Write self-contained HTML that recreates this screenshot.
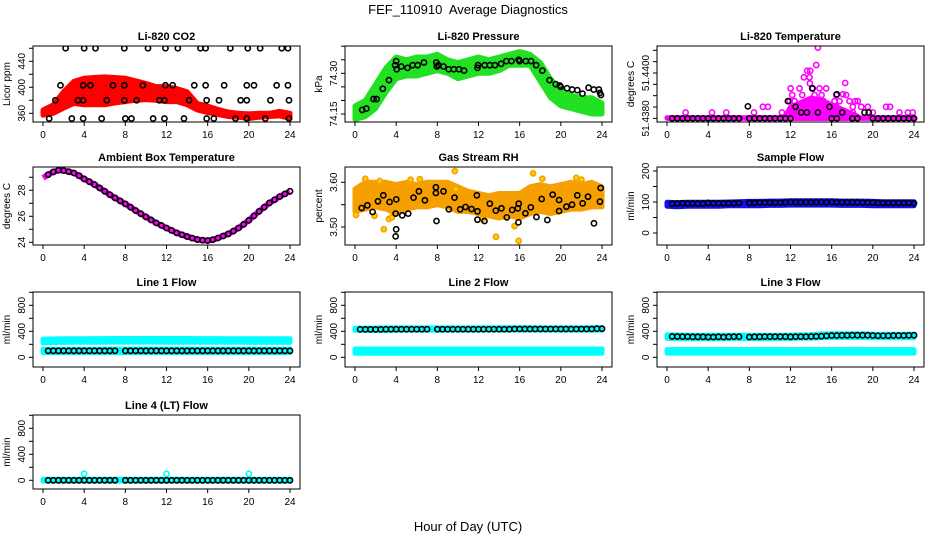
<!DOCTYPE html>
<html><head><meta charset="utf-8"><style>
html,body{margin:0;padding:0;background:#fff;}
svg{display:block;font-family:"Liberation Sans",sans-serif;}
</style></head><body>
<svg id="chart" width="936" height="540" viewBox="0 0 936 540" xmlns="http://www.w3.org/2000/svg">
<text x="468" y="14" text-anchor="middle" font-size="13" xml:space="preserve" style="white-space:pre">FEF_110910  Average Diagnostics</text>
<text x="468" y="531" text-anchor="middle" font-size="13">Hour of Day (UTC)</text>
</svg>
<script>
// ---------- data ----------
const bandHours = [0,1,2,3,4,5,6,7,8,9,10,11,12,13,14,15,16,17,18,19,20,21,22,23,24];
const xTicks = [0,4,8,12,16,20,24];

const co2Lo = [357,360,368,375,373,373,373,376,378,380,381,380,378,378,373,365,361,358,355,354,352,354,355,356,352];
const co2Hi = [365,373,393,409,414,415,416,415,414,410,406,401,401,398,393,375,371,366,362,360,359,360,360,363,360];
const co2CircHours = [2.2,4.0,5.1,7.9,10.2,11.9,13.1,15.3,15.8,18.2,19.9,21.1,23.2,23.8,
 1.7,3.9,4.6,6.8,7.9,9.7,11.9,12.6,14.7,15.8,17.6,19.8,20.5,22.7,23.8,
 1.2,3.4,3.9,6.2,7.9,9.1,11.3,11.8,14.2,15.9,17.1,19.2,19.8,22.1,23.9,
 0.6,2.8,3.9,5.7,8.0,8.6,10.7,11.8,13.7,15.9,16.6,18.7,19.8,21.6,23.9];
const co2CircVals = [460,460,460,460,460,460,460,460,460,460,460,460,460,460,
 403,403,403,403,403,403,403,403,403,403,403,403,403,403,403,
 380,380,380,380,380,380,380,380,380,380,380,380,380,380,380,
 352,352,352,352,352,352,352,352,352,352,352,352,352,352,352];

const presLo = [74.13,74.14,74.17,74.23,74.28,74.29,74.29,74.30,74.31,74.30,74.28,74.29,74.30,74.30,74.31,74.33,74.33,74.33,74.27,74.21,74.18,74.17,74.16,74.15,74.15];
const presHi = [74.18,74.20,74.26,74.32,74.36,74.35,74.36,74.36,74.37,74.35,74.34,74.35,74.36,74.35,74.36,74.37,74.38,74.37,74.34,74.28,74.24,74.22,74.21,74.21,74.19];
const presCircHours = [0.7,1.1,1.8,2.1,2.7,3.3,3.9,4.0,4.05,4.5,5.1,5.6,6.1,6.7,7.9,7.95,8.1,8.6,9.1,9.6,10.1,10.6,11.9,11.95,12.6,13.1,13.6,14.2,14.7,15.2,15.9,16.0,16.6,17.1,17.6,18.2,18.9,19.5,19.9,20.0,20.6,21.1,21.6,22.1,22.7,23.2,23.7,23.8,23.9];
const presCircVals = [74.165,74.17,74.205,74.205,74.243,74.275,74.33,74.345,74.315,74.325,74.32,74.33,74.33,74.34,74.34,74.325,74.33,74.325,74.315,74.315,74.315,74.31,74.32,74.33,74.33,74.33,74.33,74.335,74.345,74.345,74.35,74.345,74.345,74.345,74.33,74.31,74.275,74.26,74.255,74.25,74.245,74.24,74.238,74.225,74.247,74.24,74.24,74.228,74.22];

const tempMagHours = [1.81,4.37,5.76,8.45,9.32,9.81,11.17,12.01,12.17,11.91,12.39,12.88,13.14,13.3,13.62,13.92,13.85,13.88,14.17,14.34,14.5,14.66,14.82,15.02,15.21,15.47,15.34,15.73,16.28,16.44,16.76,17.09,17.31,17.41,17.73,18.06,18.28,18.54,18.87,19.51,20.0,21.29,21.68,22.59,23.4,23.88,13.53,16.44,18.06];
const tempMagVals = [51.43826,51.43826,51.43826,51.43826,51.43851,51.43851,51.43826,51.43932,51.43903,51.43876,51.43876,51.43932,51.43903,51.43981,51.4401,51.4401,51.43981,51.43954,51.43932,51.43903,51.44035,51.44112,51.43932,51.43903,51.43876,51.43932,51.43851,51.43851,51.43876,51.43903,51.43876,51.43906,51.43956,51.43903,51.43876,51.43851,51.43876,51.43876,51.43851,51.43851,51.43826,51.43851,51.43851,51.43826,51.43826,51.43826,51.43851,51.43851,51.43826];
const tempBandHours = [11.5,12,13,14,15,16,17,18,18.5];
const tempBandHi = [51.4381,51.4385,51.4387,51.4389,51.4388,51.4386,51.4384,51.4382,51.4381];
const tempBlkHours = [0.5,1,1.5,2,2.5,3,3.5,4,4.5,5,5.5,6,6.5,7,8,8.5,9,9.5,10,10.5,11,11.5,12,16,16.5,18,18.5,20,20.5,21,21.5,22,22.5,23,23.5,24,
 7.86,11.75,12.49,13.04,13.59,14.11,14.66,15.79,16.5,17.02,19.19,19.61];
const tempBlkVals = [51.438,51.438,51.438,51.438,51.438,51.438,51.438,51.438,51.438,51.438,51.438,51.438,51.438,51.438,51.438,51.438,51.438,51.438,51.438,51.438,51.438,51.438,51.438,51.438,51.438,51.438,51.438,51.438,51.438,51.438,51.438,51.438,51.438,51.438,51.438,51.438,
 51.43853,51.43876,51.43851,51.43826,51.43826,51.43932,51.43826,51.43851,51.43906,51.43826,51.43826,51.43826];

const halfHours = [0,0.5,1,1.5,2,2.5,3,3.5,4,4.5,5,5.5,6,6.5,7,7.5,8,8.5,9,9.5,10,10.5,11,11.5,12,12.5,13,13.5,14,14.5,15,15.5,16,16.5,17,17.5,18,18.5,19,19.5,20,20.5,21,21.5,22,22.5,23,23.5,24];
const ambVals = [28.95,29.2,29.41,29.54,29.51,29.43,29.33,29.12,28.87,28.66,28.44,28.18,27.92,27.66,27.41,27.18,26.95,26.7,26.44,26.2,25.95,25.72,25.49,25.3,25.1,24.91,24.72,24.58,24.44,24.32,24.21,24.16,24.13,24.2,24.33,24.48,24.64,24.86,25.1,25.38,25.69,26.03,26.38,26.7,27.03,27.27,27.51,27.72,27.92];

const rhLo = [3.535,3.54,3.545,3.54,3.53,3.54,3.545,3.545,3.55,3.545,3.535,3.535,3.53,3.525,3.52,3.525,3.52,3.53,3.535,3.53,3.535,3.54,3.54,3.545,3.545];
const rhHi = [3.585,3.60,3.60,3.60,3.595,3.60,3.595,3.60,3.60,3.60,3.59,3.58,3.575,3.57,3.575,3.575,3.575,3.59,3.595,3.59,3.595,3.60,3.595,3.60,3.59];
const rhOutHours = [0.1,1.0,2.4,2.8,3.3,5.4,6.3,9.7,9.8,13.7,15.9,17.3,18.2,21.5,22.0,1.9,3.6,15.5,12.4];
const rhOutVals = [3.527,3.608,3.603,3.495,3.518,3.606,3.607,3.625,3.585,3.478,3.469,3.62,3.608,3.61,3.606,3.525,3.522,3.502,3.518];
const rhBlkHours = [0.65,1.2,1.71,2.23,2.75,3.36,4.01,3.95,4.59,5.17,5.69,6.21,6.79,7.86,7.86,7.92,8.6,9.12,9.67,10.22,10.74,11.32,11.84,11.9,11.9,12.58,13.1,13.68,14.23,14.75,15.27,15.82,15.91,15.88,16.56,17.08,17.63,18.14,18.69,19.21,19.83,19.83,20.54,21.09,21.6,22.12,22.64,23.22,23.8,23.87,4.0,3.95];
const rhBlkVals = [3.5425,3.5485,3.5336,3.5575,3.5709,3.556,3.5619,3.5299,3.5261,3.5299,3.5657,3.5799,3.5597,3.5888,3.5761,3.5134,3.5799,3.5396,3.5657,3.5396,3.5448,3.5403,3.5709,3.5351,3.5164,3.5134,3.5522,3.5366,3.5418,3.5216,3.5381,3.5418,3.5522,3.5104,3.5306,3.544,3.5224,3.5627,3.5157,3.5724,3.5604,3.5358,3.5455,3.55,3.5709,3.553,3.5679,3.5082,3.5567,3.5873,3.4948,3.479];

const sampLo = [86,85,86,86,86,86,88,88,88,88,89,89,90,90,90,90,90,89,89,89,88,88,88,88,88];
const sampHi = [99,98,99,99,99,99,100,101,102,102,103,103,104,104,104,104,104,103,103,103,102,101,101,101,101];
const flowHours = [0.5,1,1.5,2,2.5,3,3.5,4,4.5,5,5.5,6,6.5,7,8,8.5,9,9.5,10,10.5,11,11.5,12,12.5,13,13.5,14,14.5,15,15.5,16,16.5,17,17.5,18,18.5,19,19.5,20,20.5,21,21.5,22,22.5,23,23.5,24];
const sampBlk = [94,95,96,95,95,95,95,97,96,96,96,96,96,97,97,97,98,98,98,98,98,99,100,99,99,99,99,99,100,99,100,99,99,99,99,99,98,98,98,97,97,97,97,97,97,97,96];

const l1UpLo = [225,228,230,232,232,233,233,234,234,234,234,234,233,233,233,233,233,233,232,232,230,230,230,230,230];
const l1UpHi = [280,282,284,286,287,288,288,290,290,290,290,290,290,289,289,288,288,288,287,287,286,286,286,285,285];
const l1LoLo = [72,72,72,72,72,72,72,72,72,72,72,72,72,72,72,72,72,72,72,72,72,72,72,72,72];
const l1LoHi = [125,125,125,125,125,125,126,126,126,126,126,126,126,126,126,126,126,126,126,126,126,126,126,126,126];
const l1Blk = [100,100,100,100,100,100,100,100,100,100,100,100,100,100,100,100,100,100,100,100,100,100,100,100,100,100,100,100,100,100,100,100,100,100,100,100,100,100,100,100,100,100,100,100,100,100,100];

const l2UpLo = [415,415,412,412,415,418,418,418,418,418,418,418,418,420,420,420,420,420,418,418,418,418,418,418,418];
const l2UpHi = [450,450,450,452,452,452,452,452,452,452,452,452,452,455,455,455,455,455,452,452,452,452,452,455,455];
const l2LoLo = [62,62,62,62,62,62,62,62,62,62,62,62,62,62,62,62,62,62,62,62,62,62,62,62,62];
const l2LoHi = [128,128,128,128,128,128,128,128,128,128,128,128,128,128,128,128,128,128,128,128,128,128,128,128,128];
const l2Blk = [430,430,430,430,430,432,432,432,432,432,432,432,432,432,432,432,432,432,432,432,432,432,432,432,432,432,432,432,432,435,435,435,435,435,435,435,435,435,435,435,435,435,435,435,435,440,440];

const l3UpLo = [290,290,285,285,285,285,290,290,290,288,288,290,290,292,295,300,305,305,305,305,300,300,300,300,300];
const l3UpHi = [345,345,342,340,340,340,340,340,340,340,340,340,342,345,350,360,362,362,362,360,355,355,355,355,355];
const l3LoLo = [65,65,65,65,65,65,65,65,65,65,65,65,65,65,65,65,65,65,65,65,65,65,65,65,65];
const l3LoHi = [118,118,118,118,118,118,118,118,118,118,118,118,118,118,118,118,118,118,118,118,118,118,118,118,118];
const l3Blk = [320,320,318,318,315,315,315,312,312,315,312,315,318,318,312,315,315,318,318,318,318,318,315,318,318,318,320,322,325,330,335,335,338,338,340,340,340,340,335,332,332,332,335,335,335,338,340];

const l4Lo = [-12,-12,-12,-12,-12,-12,-12,-12,-12,-12,-12,-12,-12,-12,-12,-12,-12,-12,-12,-12,-12,-12,-12,-12,-12];
const l4Hi = [16,16,16,16,16,16,16,16,16,16,16,16,16,16,16,16,16,16,16,16,16,16,16,16,16];
const l4Blk = [0,0,0,0,0,0,0,0,0,0,0,0,0,0,0,0,0,0,0,0,0,0,0,0,0,0,0,0,0,0,0,0,0,0,0,0,0,0,0,0,0,0,0,0,0,0,0];
const l4SpikeHours = [4,12,20];
const l4SpikeVals = [100,100,100];

// ---------- drawing ----------
const NS = "http://www.w3.org/2000/svg";
const svg = document.getElementById('chart');
const rowTop = [46,167,292,415], rowBot = [122,245,367,489];
function mk(tag, attrs, parent){ const e=document.createElementNS(NS,tag); for(const k in attrs) e.setAttribute(k,attrs[k]); (parent||svg).appendChild(e); return e; }

function panel(col,row,name,title,ylab,ymin,ymax,ticks,labels,fmt){
  const g = mk('g',{});
  
  
  const L=33+312*col, R=300+312*col, T=rowTop[row], B=rowBot[row];
  const x0=43+312*col, x1=290+312*col;
  const xs = h => x0+(h/24)*(x1-x0);
  const ys = v => B-(v-ymin)/(ymax-ymin)*(B-T);
  const t = mk('text',{x:(L+R)/2,y:T-6,'text-anchor':'middle','font-size':11,'font-weight':'bold'},g);
  t.textContent=title;
  
  
  const yt = mk('text',{x:0,y:0,'text-anchor':'middle','font-size':10,transform:`translate(${L-23},${(T+B)/2}) rotate(-90)`},g);
  yt.textContent=ylab;
  
  
  const plot = mk('g',{},g);
  
  
  const box = mk('rect',{x:L,y:T,width:R-L,height:B-T,fill:'none',stroke:'#000','stroke-width':1},g);
  
  
  xTicks.forEach(h=>{
    mk('line',{x1:xs(h),x2:xs(h),y1:B,y2:B+4,stroke:'#000'},g);
    const tl = mk('text',{x:xs(h),y:B+16,'text-anchor':'middle','font-size':10},g);
    tl.textContent=h;
    
    
  });
  ticks.forEach(v=>{ mk('line',{x1:L,x2:L-4,y1:ys(v),y2:ys(v),stroke:'#000'},g); });
  labels.forEach(v=>{
    const tl = mk('text',{x:0,y:0,'text-anchor':'middle','font-size':10,transform:`translate(${L-8},${ys(v)}) rotate(-90)`},g);
    tl.textContent= fmt ? v.toFixed(fmt) : v;
    
    
  });
  const clip = 'c'+name; const cp=mk('clipPath',{id:clip},g); mk('rect',{x:L,y:T,width:R-L,height:B-T},cp);
  plot.setAttribute('clip-path',`url(#${clip})`);
  g.appendChild(box);
  return {xs,ys,plot};
}
function band(p,hours,lo,hi,color,name){
  let d='M'+hours.map((h,i)=>p.xs(h).toFixed(1)+','+p.ys(hi[i]).toFixed(1)).join('L');
  d+='L'+hours.slice().reverse().map((h,j)=>{const i=hours.length-1-j;return p.xs(h).toFixed(1)+','+p.ys(lo[i]).toFixed(1);}).join('L')+'Z';
  const e=mk('path',{d,fill:color,stroke:color,'stroke-width':5,'stroke-linejoin':'round'},p.plot);
  
  
}
function pts(p,hours,vals,color,name,fill){
  hours.forEach((h,i)=>{
    const c=mk('circle',{cx:p.xs(h),cy:p.ys(vals[i]),r:2.6,fill:fill||'none',stroke:color,'stroke-width':1.6},p.plot);
    
    
  });
}

// CO2
let p = panel(0,0,'co2','Li-820 CO2','Licor ppm',346.6,463.5,[360,380,400,420,440,460],[360,400,440]);
band(p,bandHours,co2Lo,co2Hi,'#ff0000','co2-band');
pts(p,co2CircHours,co2CircVals,'#000','co2-point');

// Pressure
p = panel(1,0,'pressure','Li-820 Pressure','kPa',74.1205,74.4007,[74.15,74.20,74.25,74.30,74.35,74.40],[74.15,74.30],2);
band(p,bandHours,presLo,presHi,'#22e022','pressure-band');
pts(p,presCircHours,presCircVals,'#000','pressure-point');

// Temperature
p = panel(2,0,'licor-temp','Li-820 Temperature','degrees C',51.43784,51.44119,[51.438,51.4385,51.439,51.4395,51.44,51.4405,51.441],[51.438,51.44],4);
band(p,[0,24],[51.438,51.438],[51.43803,51.43803],'#ff00ff','licor-temp-base');
band(p,tempBandHours,tempBandHours.map(()=>51.438),tempBandHi,'#ff00ff','licor-temp-band');
pts(p,tempMagHours,tempMagVals,'#ff00ff','licor-temp-point');
pts(p,tempBlkHours,tempBlkVals,'#000','licor-temp-avg-point');

// Ambient
p = panel(0,1,'ambient','Ambient Box Temperature','degrees C',23.79,29.79,[24,25,26,27,28,29],[24,26,28]);
const ambLine = mk('polyline',{points:halfHours.map((h,i)=>p.xs(h).toFixed(1)+','+p.ys(ambVals[i]).toFixed(1)).join(' '),fill:'none',stroke:'#ff00ff','stroke-width':6,'stroke-linejoin':'round'},p.plot);


pts(p,halfHours.slice(1),ambVals.slice(1),'#000','ambient-point');

// RH
p = panel(1,1,'rh','Gas Stream RH','percent',3.4597,3.6343,[3.50,3.55,3.60],[3.50,3.60],2);
band(p,bandHours,rhLo,rhHi,'#f5a000','rh-band');
pts(p,rhOutHours,rhOutVals,'#f5a000','rh-outlier','#ffd000');
pts(p,rhBlkHours,rhBlkVals,'#000','rh-point');

// Sample Flow
p = panel(2,1,'sample-flow','Sample Flow','ml/min',-38.7,212.9,[0,50,100,150,200],[0,100,200]);
band(p,bandHours,sampLo,sampHi,'#1010ee','sample-flow-band');
pts(p,flowHours,sampBlk,'#000','sample-flow-point');

const flowTicks=[0,200,400,600,800,1000], flowLabels=[0,400,800];
// Line 1
p = panel(0,2,'line1','Line 1 Flow','ml/min',-149,1004.6,flowTicks,flowLabels);
band(p,bandHours,l1UpLo,l1UpHi,'#00ffff','line1-upper-band');
band(p,bandHours,l1LoLo,l1LoHi,'#00ffff','line1-lower-band');
pts(p,flowHours,l1Blk,'#000','line1-point');
// Line 2
p = panel(1,2,'line2','Line 2 Flow','ml/min',-149,1004.6,flowTicks,flowLabels);
band(p,bandHours,l2UpLo,l2UpHi,'#00ffff','line2-upper-band');
band(p,bandHours,l2LoLo,l2LoHi,'#00ffff','line2-lower-band');
pts(p,flowHours,l2Blk,'#000','line2-point');
// Line 3
p = panel(2,2,'line3','Line 3 Flow','ml/min',-149,1004.6,flowTicks,flowLabels);
band(p,bandHours,l3UpLo,l3UpHi,'#00ffff','line3-upper-band');
band(p,bandHours,l3LoLo,l3LoHi,'#00ffff','line3-lower-band');
pts(p,flowHours,l3Blk,'#000','line3-point');
// Line 4
p = panel(0,3,'line4','Line 4 (LT) Flow','ml/min',-134,1004.6,flowTicks,flowLabels);
band(p,bandHours,l4Lo,l4Hi,'#00ffff','line4-band');
pts(p,l4SpikeHours,l4SpikeVals,'#00ffff','line4-spike');
pts(p,flowHours,l4Blk,'#000','line4-point');
</script>
</body></html>
